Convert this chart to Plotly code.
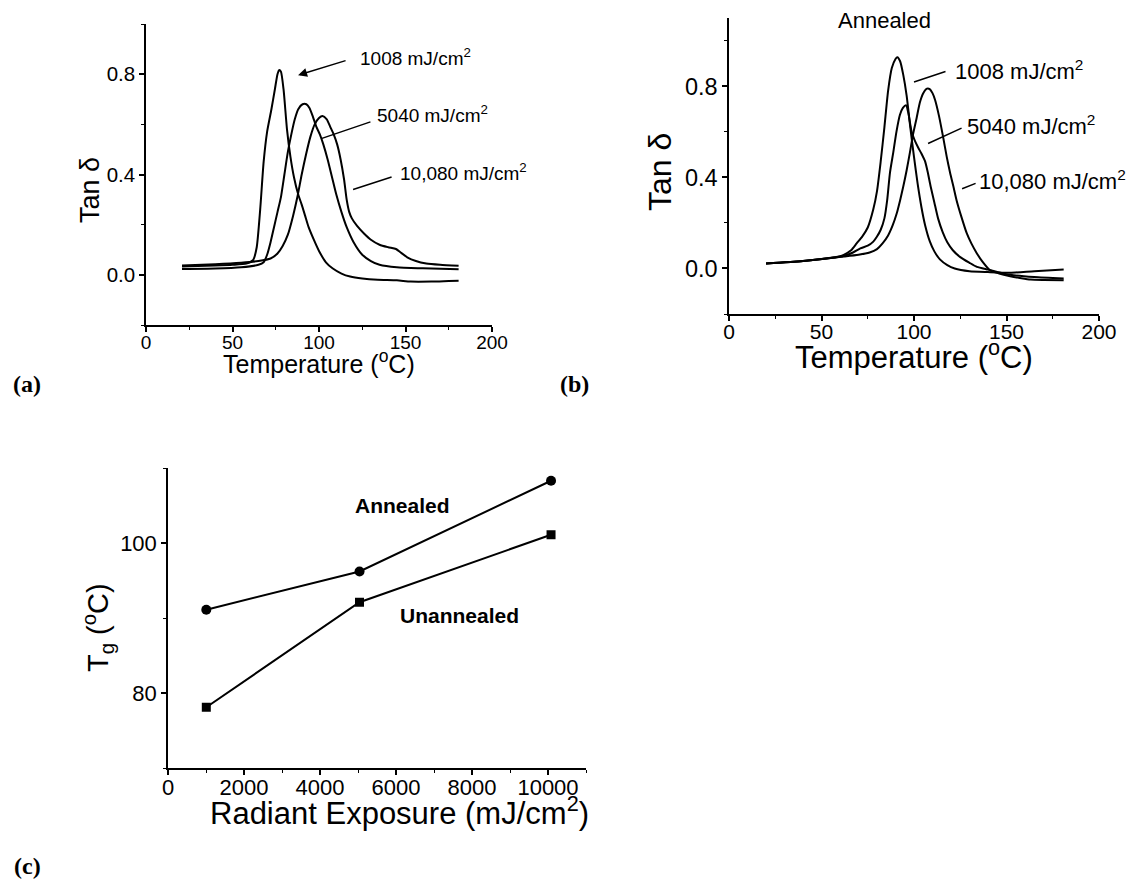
import plotly.graph_objects as go

# ---------------- tan delta curves, unannealed samples ----------------
un_1008_T = [20.8, 30, 40, 50, 58, 62, 64, 66, 68, 70, 72.5, 74.5, 76, 77, 78, 79.5, 81.5, 83.5, 85.5, 88,
             90, 92, 94, 97, 100, 104, 108, 113, 118, 125, 134, 145, 153, 165, 175, 180.7]
un_1008_v = [0.033, 0.035, 0.037, 0.040, 0.045, 0.06, 0.11, 0.26, 0.45, 0.57, 0.66, 0.74, 0.80, 0.817, 0.81,
             0.74, 0.58, 0.47, 0.39, 0.32, 0.28, 0.235, 0.19, 0.14, 0.095, 0.05, 0.025, 0.005, -0.007,
             -0.015, -0.02, -0.022, -0.027, -0.027, -0.025, -0.024]

un_5040_T = [20.8, 40, 55, 65, 68, 70, 72, 74, 76, 78, 80, 82, 84, 86, 88, 90.5, 92.7, 94.5, 96.5, 98.5,
             100.5, 102.5, 105, 107.5, 110, 113, 116, 120, 125, 130, 135, 145, 160, 180.7]
un_5040_v = [0.023, 0.025, 0.03, 0.04, 0.05, 0.08, 0.13, 0.19, 0.25, 0.31, 0.40, 0.49, 0.56, 0.62, 0.66,
             0.68, 0.68, 0.665, 0.63, 0.59, 0.56, 0.52, 0.46, 0.39, 0.32, 0.25, 0.19, 0.13, 0.08, 0.055,
             0.04, 0.03, 0.026, 0.022]

un_10080_T = [20.8, 40, 55, 65, 72, 76, 79, 82, 85, 87.5, 90, 92.5, 95, 97.5, 100, 102, 104.5, 106.5, 108.5,
              110.5, 112.5, 114.5, 116, 117.5, 119, 122, 126, 130, 135, 140, 144.5, 147, 151, 156, 162,
              170, 180.7]
un_10080_v = [0.037, 0.042, 0.048, 0.055, 0.065, 0.085, 0.115, 0.16, 0.235, 0.31, 0.40, 0.48, 0.55, 0.60,
              0.625, 0.633, 0.62, 0.59, 0.56, 0.52, 0.46, 0.38, 0.30, 0.25, 0.225, 0.195, 0.165, 0.14,
              0.12, 0.11, 0.103, 0.09, 0.07, 0.055, 0.045, 0.04, 0.036]

# ---------------- tan delta curves, annealed samples ----------------
an_1008_T = [20, 30, 40, 50, 58, 62, 66, 69, 72, 75, 78, 80, 82, 84, 86, 88, 90, 91, 92.5, 94.2, 96, 98,
             100, 102, 104, 106, 108.5, 111, 114, 118, 122, 130, 140, 152, 165, 180.9]
an_1008_v = [0.022, 0.027, 0.033, 0.042, 0.05, 0.06, 0.08, 0.11, 0.14, 0.18, 0.26, 0.34, 0.47, 0.62, 0.78,
             0.88, 0.92, 0.928, 0.91, 0.85, 0.76, 0.62, 0.49, 0.37, 0.27, 0.19, 0.12, 0.075, 0.04, 0.015,
             0.0, -0.012, -0.016, -0.019, -0.012, -0.005]

an_5040_T = [20, 40, 55, 62, 67, 71, 75, 78, 80, 82, 84, 85.5, 87, 88.8, 90.5, 92.4, 94, 95.7, 97, 98.7,
             100.5, 102.3, 104, 106, 107.5, 109, 111, 113, 115.5, 118, 121, 125, 130, 134, 140, 145, 152,
             165, 180.9]
an_5040_v = [0.022, 0.033, 0.046, 0.055, 0.07, 0.088, 0.1, 0.118, 0.14, 0.17, 0.22, 0.30, 0.42, 0.51, 0.60,
             0.675, 0.705, 0.717, 0.68, 0.60, 0.56, 0.53, 0.505, 0.47, 0.42, 0.36, 0.29, 0.22, 0.16,
             0.115, 0.08, 0.05, 0.025, 0.007, -0.005, -0.015, -0.028, -0.038, -0.044]

an_10080_T = [20, 40, 55, 62, 70, 76, 80, 83, 86, 88.5, 90.6, 92.5, 94.2, 96, 97.8, 99.5, 101.4, 103.2, 105,
              107, 108.5, 110, 111.4, 113.5, 115.9, 117.7, 119.5, 121.3, 123, 125.5, 128.5, 131, 134, 137,
              141, 146, 152, 158, 163, 170, 180.9]
an_10080_v = [0.022, 0.033, 0.046, 0.052, 0.06, 0.07, 0.085, 0.11, 0.145, 0.19, 0.24, 0.30, 0.36, 0.43,
              0.51, 0.59, 0.66, 0.73, 0.77, 0.79, 0.788, 0.77, 0.74, 0.67, 0.57, 0.49, 0.42, 0.36, 0.30,
              0.23, 0.155, 0.11, 0.066, 0.03, -0.007, -0.022, -0.034, -0.043, -0.049, -0.051, -0.052]

# ---------------- glass transition temperature vs exposure ----------------
exposure = [1008, 5040, 10080]
tg_annealed = [91.1, 96.2, 108.3]
tg_unannealed = [78.1, 92.1, 101.1]

FONT = "Liberation Sans, Arial, sans-serif"
INK = "black"

fig = go.Figure()

def curve(x, y, xa, ya):
    fig.add_trace(go.Scatter(x=x, y=y, mode="lines", xaxis=xa, yaxis=ya,
                             line=dict(color=INK, width=2, shape="spline", smoothing=0.6),
                             showlegend=False, hoverinfo="skip"))

for T, v in [(un_1008_T, un_1008_v), (un_5040_T, un_5040_v), (un_10080_T, un_10080_v)]:
    curve(T, v, "x", "y")
for T, v in [(an_1008_T, an_1008_v), (an_5040_T, an_5040_v), (an_10080_T, an_10080_v)]:
    curve(T, v, "x2", "y2")

fig.add_trace(go.Scatter(x=exposure, y=tg_annealed, mode="lines+markers", xaxis="x3", yaxis="y3",
                         line=dict(color=INK, width=2),
                         marker=dict(symbol="circle", size=10, color=INK),
                         showlegend=False, cliponaxis=False))
fig.add_trace(go.Scatter(x=exposure, y=tg_unannealed, mode="lines+markers", xaxis="x3", yaxis="y3",
                         line=dict(color=INK, width=2),
                         marker=dict(symbol="square", size=9, color=INK),
                         showlegend=False, cliponaxis=False))


def axis(domain, rng, dtick, minor, size, fmt=None, anchor=None, standoff=0):
    d = dict(domain=domain, range=rng, dtick=dtick, tick0=0, showgrid=False, zeroline=False,
             showline=True, linecolor=INK, linewidth=1.5, ticks="outside", ticklen=5,
             tickwidth=1.5, tickcolor=INK, mirror=False, automargin=False,
             ticklabelstandoff=standoff,
             tickfont=dict(family=FONT, size=size, color=INK),
             minor=dict(dtick=minor, tick0=0, ticks="outside", ticklen=3, tickwidth=1.2,
                        tickcolor=INK, showgrid=False),
             anchor=anchor)
    if fmt:
        d["tickformat"] = fmt
    return d

W, H = 1132, 886

def px(x0, x1):
    return [x0 / W, x1 / W]

def py(ytop, ybot):
    return [1 - ybot / H, 1 - ytop / H]

fig.update_layout(
    template="none",
    width=W, height=H, margin=dict(l=0, r=0, t=0, b=0, pad=0), autosize=False,
    paper_bgcolor="white", plot_bgcolor="white",
    xaxis=axis(px(146, 492), [0, 200], 50, 25, 19, anchor="y", standoff=-6),
    yaxis=axis(py(24, 325), [-0.2, 1.0], 0.4, 0.2, 20.5, ".1f", anchor="x"),
    xaxis2=axis(px(729, 1099), [0, 200], 50, 25, 21, anchor="y2", standoff=-7),
    yaxis2=axis(py(18, 314), [-0.2, 1.1], 0.4, 0.2, 23.5, ".1f", anchor="x2"),
    xaxis3=axis(px(168, 586), [0, 11000], 2000, 1000, 22, "d", anchor="y3", standoff=-6),
    yaxis3=axis(py(468, 768), [70, 110], 20, 10, 22, "d", anchor="x3"),
)

ann = []

def text(x, y, s, size, xref="paper", yref="paper", xanchor="center", angle=0, family=FONT):
    ann.append(dict(x=x, y=y, xref=xref, yref=yref, text=s, showarrow=False, xanchor=xanchor,
                    yanchor="middle", textangle=angle,
                    font=dict(family=family, size=size, color=INK)))

def pointer(x, y, ax, ay, xref, yref, head=0):
    ann.append(dict(x=x, y=y, xref=xref, yref=yref, ax=ax, ay=ay, text="", showarrow=True,
                    arrowhead=head, arrowsize=1.2, arrowwidth=1.5, arrowcolor=INK))

# axis titles
text(319 / W, 1 - 362 / H, "Temperature (<sup>o</sup>C)", 25)
text(90 / W, 1 - 190 / H, "Tan δ", 27, angle=-90)
text(914 / W, 1 - 355 / H, "Temperature (<sup>o</sup>C)", 31)
text(660 / W, 1 - 172 / H, "Tan δ", 32, angle=-90)
text(399 / W, 1 - 811 / H, "Radiant Exposure (mJ/cm<sup>2</sup>)", 31)
text(98 / W, 1 - 628 / H, "T<sub>g</sub> (<sup>o</sup>C)", 29, angle=-90)

# panel letters
SERIF = "Liberation Serif, Times New Roman, serif"
text(27 / W, 1 - 384 / H, "<b>(a)</b>", 24, family=SERIF)
text(575 / W, 1 - 384 / H, "<b>(b)</b>", 24, family=SERIF)
text(27 / W, 1 - 866 / H, "<b>(c)</b>", 24, family=SERIF)

# panel (a) labels
text(76.3, 1.008, "Unannealed", 18, "x", "y")
text(122.5, 0.868, "1008 mJ/cm<sup>2</sup>", 19, "x", "y", xanchor="left")
text(132.4, 0.64, "5040 mJ/cm<sup>2</sup>", 19, "x", "y", xanchor="left")
text(145.7, 0.408, "10,080 mJ/cm<sup>2</sup>", 19, "x", "y", xanchor="left")
pointer(87.9, 0.796, 49, -15, "x", "y", head=2)
pointer(101.7, 0.544, 50, -17, "x", "y")
pointer(119.7, 0.34, 40, -13, "x", "y")

# panel (b) labels
text(84.3, 1.088, "Annealed", 22, "x2", "y2")
text(121, 0.872, "1008 mJ/cm<sup>2</sup>", 22, "x2", "y2", xanchor="left")
text(127.6, 0.628, "5040 mJ/cm<sup>2</sup>", 22, "x2", "y2", xanchor="left")
text(134, 0.389, "10,080 mJ/cm<sup>2</sup>", 22, "x2", "y2", xanchor="left")
pointer(100, 0.819, 33, -11, "x2", "y2")
pointer(107.6, 0.549, 35, -16, "x2", "y2")
pointer(126, 0.35, 15, -6, "x2", "y2")

# panel (c) labels
text(6184, 105.0, "<b>Annealed</b>", 21, "x3", "y3")
text(7684, 90.3, "<b>Unannealed</b>", 21, "x3", "y3")

fig.update_layout(annotations=ann)
fig.write_html("out.html")
